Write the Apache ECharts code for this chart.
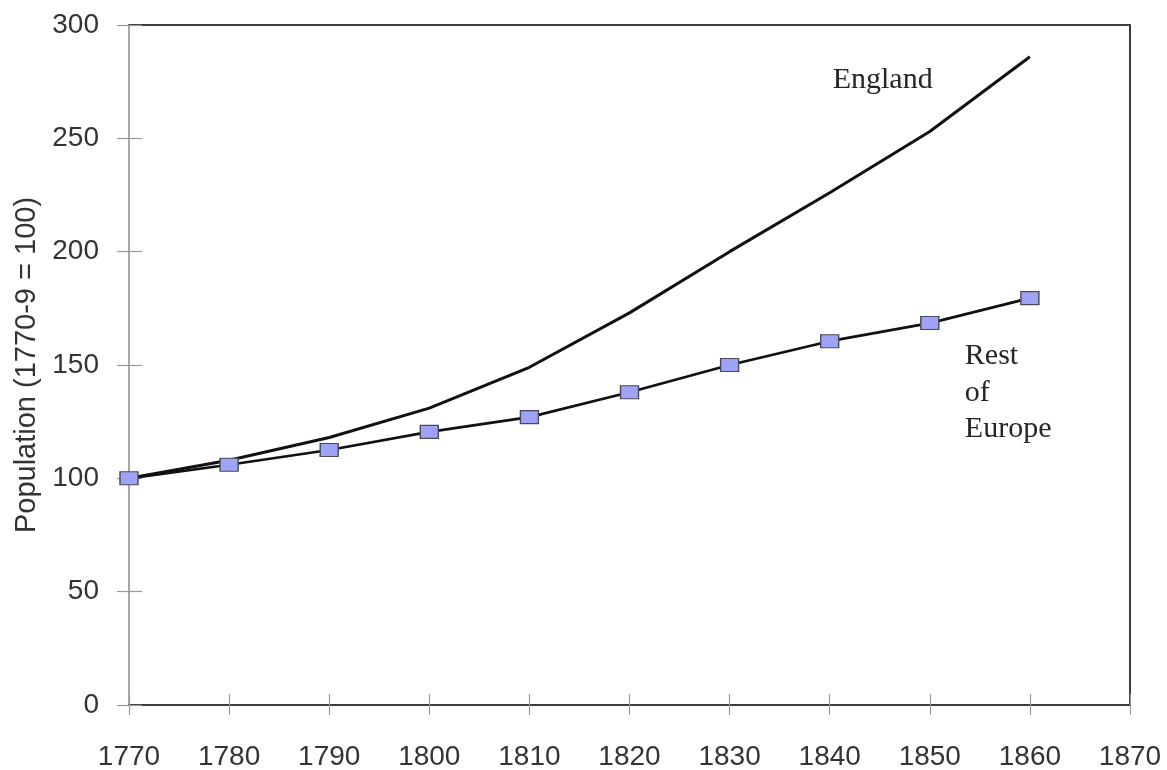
<!DOCTYPE html>
<html>
<head>
<meta charset="utf-8">
<script src="https://cdn.jsdelivr.net/npm/echarts@6/dist/echarts.min.js"></script>
<style>
  html, body { margin: 0; padding: 0; background: #ffffff; }
  #chart { width: 1167px; height: 770px; }
</style>
</head>
<body>
<div id="chart"></div>
<script>
// ---- Data ----
const years = [1770, 1780, 1790, 1800, 1810, 1820, 1830, 1840, 1850, 1860];
const england = [100, 108, 118, 131, 149, 173, 200, 226, 253, 286];
const restOfEurope = [100, 106, 112.5, 120.5, 127, 138, 150, 160.5, 168.5, 179.5];
const yTicks = [0, 50, 100, 150, 200, 250, 300];
const xTicks = [1770, 1780, 1790, 1800, 1810, 1820, 1830, 1840, 1850, 1860, 1870];
const yAxisTitle = 'Population (1770-9 = 100)';
const englandLabel = { text: 'England', at: [1840.3, 275.7] };
const restLabel = { text: 'Rest\nof\nEurope', at: [1853.5, 137.6] };

const pair = (xs, ys) => xs.map((x, i) => [x, ys[i]]);

const chart = echarts.init(document.getElementById('chart'), null, { renderer: 'canvas' });

const labelFont = { fontFamily: '"Liberation Sans", Arial, sans-serif', fontSize: 28, color: '#333333' };
const serifFont = { fontFamily: '"Liberation Serif", "Times New Roman", serif', fontSize: 30, color: '#262626' };

const grid = { left: 129, right: 37, top: 25, bottom: 65, containLabel: false, outerBoundsMode: 'none' };

const option = {
  backgroundColor: '#ffffff',
  animation: false,
  grid: grid,
  xAxis: [
    {
      type: 'value', position: 'bottom', min: xTicks[0], max: xTicks[xTicks.length - 1], interval: 10,
      axisLine: { show: true, onZero: false, lineStyle: { color: '#3c3c3c', width: 2 } },
      axisTick: { show: true, inside: false, length: 10, lineStyle: { color: '#9a9a9a', width: 1.2 } },
      axisLabel: Object.assign({ margin: 38, formatter: v => String(v) }, labelFont),
      splitLine: { show: false }
    },
    {
      type: 'value', position: 'bottom', min: xTicks[0], max: xTicks[xTicks.length - 1], interval: 10,
      axisLine: { show: false, onZero: false },
      axisTick: { show: true, inside: true, length: 11, lineStyle: { color: '#9a9a9a', width: 1.2 } },
      axisLabel: { show: false },
      splitLine: { show: false }
    },
    {
      type: 'value', position: 'top', min: xTicks[0], max: xTicks[xTicks.length - 1], interval: 10,
      axisLine: { show: true, onZero: false, lineStyle: { color: '#3c3c3c', width: 2 } },
      axisTick: { show: false }, axisLabel: { show: false }, splitLine: { show: false }
    }
  ],
  yAxis: [
    {
      type: 'value', position: 'left', min: yTicks[0], max: yTicks[yTicks.length - 1], interval: 50,
      name: yAxisTitle, nameLocation: 'middle', nameGap: 87, nameRotate: 90,
      nameTextStyle: { fontFamily: '"Liberation Sans", Arial, sans-serif', fontSize: 29, color: '#333333' },
      axisLine: { show: true, onZero: false, lineStyle: { color: '#8a8a8a', width: 1.5 } },
      axisTick: { show: true, inside: false, length: 12, lineStyle: { color: '#9a9a9a', width: 1.2 } },
      axisLabel: Object.assign({ margin: 30 }, labelFont),
      splitLine: { show: false }
    },
    {
      type: 'value', position: 'left', min: yTicks[0], max: yTicks[yTicks.length - 1], interval: 50,
      axisLine: { show: false, onZero: false },
      axisTick: { show: true, inside: true, length: 13, lineStyle: { color: '#9a9a9a', width: 1.2 } },
      axisLabel: { show: false }, splitLine: { show: false }
    },
    {
      type: 'value', position: 'right', min: yTicks[0], max: yTicks[yTicks.length - 1], interval: 50,
      axisLine: { show: true, onZero: false, lineStyle: { color: '#3c3c3c', width: 2 } },
      axisTick: { show: false }, axisLabel: { show: false }, splitLine: { show: false }
    }
  ],
  series: [
    {
      name: 'England', type: 'line', xAxisIndex: 0, yAxisIndex: 0,
      data: pair(years, england),
      showSymbol: false, symbol: 'none',
      lineStyle: { color: '#111111', width: 3 },
      z: 3,
      markPoint: {
        symbol: 'rect', symbolSize: 0,
        label: Object.assign({ show: true, position: 'right', distance: 0, formatter: englandLabel.text }, serifFont),
        data: [{ coord: englandLabel.at, value: 0 }]
      }
    },
    {
      name: 'Rest of Europe', type: 'line', xAxisIndex: 0, yAxisIndex: 0,
      data: pair(years, restOfEurope),
      symbol: 'rect', symbolSize: [18, 13], showSymbol: true,
      lineStyle: { color: '#111111', width: 2.7 },
      itemStyle: { color: '#9fa3f5', borderColor: '#4a4a5a', borderWidth: 1.2 },
      z: 4,
      markPoint: {
        symbol: 'rect', symbolSize: 0,
        label: Object.assign({ show: true, position: 'right', distance: 0, lineHeight: 36.5, formatter: restLabel.text }, serifFont),
        data: [{ coord: restLabel.at, value: 0 }]
      }
    }
  ]
};

chart.setOption(option);
</script>
</body>
</html>
